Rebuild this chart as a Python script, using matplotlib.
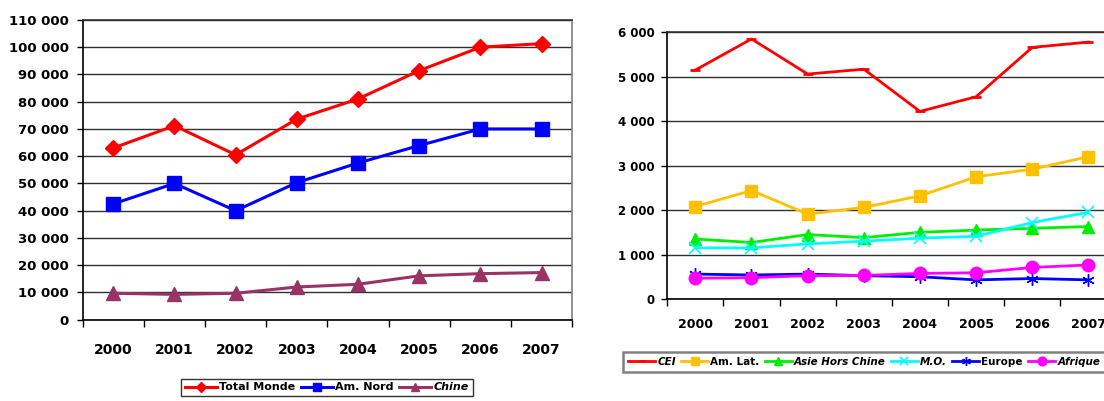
import numpy as np
import matplotlib.pyplot as plt
from matplotlib.ticker import FuncFormatter, MultipleLocator

years = ['2000', '2001', '2002', '2003', '2004', '2005', '2006', '2007']

# production mondiale et grandes zones
total_monde = [63000, 71200, 60500, 73600, 81000, 91400, 100000, 101300]
am_nord = [42500, 50000, 40000, 50300, 57500, 63900, 70000, 70000]
chine = [9700, 9300, 9700, 12000, 13000, 16100, 16900, 17300]

# autres zones
cei = [5150, 5850, 5060, 5170, 4220, 4550, 5660, 5780]
am_lat = [2080, 2440, 1910, 2060, 2320, 2750, 2920, 3200]
asie_hors_chine = [1350, 1270, 1450, 1380, 1500, 1550, 1590, 1630]
moyen_orient = [1150, 1150, 1240, 1300, 1370, 1410, 1720, 1950]
europe = [560, 540, 560, 525, 500, 430, 460, 430]
afrique = [465, 480, 525, 530, 575, 590, 710, 765]


def milliers(v, pos):
    return '{:,}'.format(int(v)).replace(',', ' ')


def style_axes(ax, ymax, step, ysize, xsize, xpad, ypad):
    ax.set_xlim(-0.5, 7.5)
    ax.set_ylim(0, ymax)
    ax.yaxis.set_major_locator(MultipleLocator(step))
    ax.yaxis.set_major_formatter(FuncFormatter(milliers))
    ax.grid(axis='y', color='#303030', lw=1)
    ax.set_axisbelow(True)
    ax.set_xticks(range(len(years)))
    ax.set_xticklabels(years)
    ax.set_xticks(np.arange(-0.5, len(years), 1), minor=True)
    ax.tick_params(axis='x', which='major', length=0, pad=xpad,
                   labelsize=xsize)
    ax.tick_params(axis='x', which='minor', length=5, width=1,
                   direction='out')
    ax.tick_params(axis='y', length=4, width=1, direction='out', pad=ypad,
                   labelsize=ysize)
    for lab in ax.get_xticklabels() + ax.get_yticklabels():
        lab.set_fontweight('bold')
    ax.spines['left'].set_color('black')
    ax.spines['bottom'].set_color('black')
    ax.spines['top'].set_color('#303030')
    ax.spines['right'].set_color('#808080')
    for s in ax.spines.values():
        s.set_linewidth(1.2)


fig = plt.figure(figsize=(11.04, 4.01), dpi=100)

# graphique de gauche
ax1 = fig.add_axes([0.0749, 0.2027, 0.4433, 0.7476])
x = np.arange(len(years))
l1, = ax1.plot(x, total_monde, color='#FF0000', lw=2.2, marker='D',
               markersize=8.5, label='Total Monde')
l2, = ax1.plot(x, am_nord, color='#0000FF', lw=2.2, marker='s',
               markersize=9.5, label='Am. Nord')
l3, = ax1.plot(x, chine, color='#993366', lw=2.2, marker='^',
               markersize=10, label='Chine')
style_axes(ax1, 110000, 10000, 9.5, 10, 17, 6)

leg1 = fig.legend(handles=[l1, l2, l3], loc='upper center',
                  bbox_to_anchor=(0.296, 0.056), ncol=3, frameon=True,
                  fancybox=False, edgecolor='black',
                  handlelength=2.9, handletextpad=0.2, columnspacing=0.5,
                  borderpad=0.35, borderaxespad=0,
                  prop={'weight': 'bold', 'size': 8}, markerscale=0.6)
leg1.get_frame().set_linewidth(1)
leg1.get_texts()[2].set_fontstyle('italic')

# graphique de droite
ax2 = fig.add_axes([0.6044, 0.2544, 0.4069, 0.6651])
m1, = ax2.plot(x, cei, color='#FF0000', lw=2, marker='_', markersize=7,
               markeredgewidth=2, label='CEI')
m2, = ax2.plot(x, am_lat, color='#FFC000', lw=2, marker='s',
               markersize=8, label='Am. Lat.')
m3, = ax2.plot(x, asie_hors_chine, color='#00EE00', lw=2, marker='^',
               markersize=8.5, label='Asie Hors Chine')
m4, = ax2.plot(x, moyen_orient, color='#00FFFF', lw=2, marker='x',
               markersize=8, markeredgewidth=1.2, label='M.O.')
m5, = ax2.plot(x, europe, color='#0000FF', lw=2, marker=(6, 2, 0),
               markersize=9, markeredgewidth=1, label='Europe')
m6, = ax2.plot(x, afrique, color='#FF00FF', lw=2, marker='o',
               markersize=9, label='Afrique')
style_axes(ax2, 6000, 1000, 8.5, 9, 14, 5)

leg2 = fig.legend(handles=[m1, m2, m3, m4, m5, m6], loc='upper left',
                  bbox_to_anchor=(0.5643, 0.123), ncol=6, frameon=True,
                  fancybox=False, edgecolor='#606060',
                  handlelength=2.6, handletextpad=0.2, columnspacing=0.5,
                  borderpad=0.5, borderaxespad=0,
                  prop={'weight': 'bold', 'size': 7.5}, markerscale=0.7)
leg2.get_frame().set_linewidth(1.8)
for i in (0, 2, 3, 5):
    leg2.get_texts()[i].set_fontstyle('italic')

fig.savefig('out.png', dpi=100)
